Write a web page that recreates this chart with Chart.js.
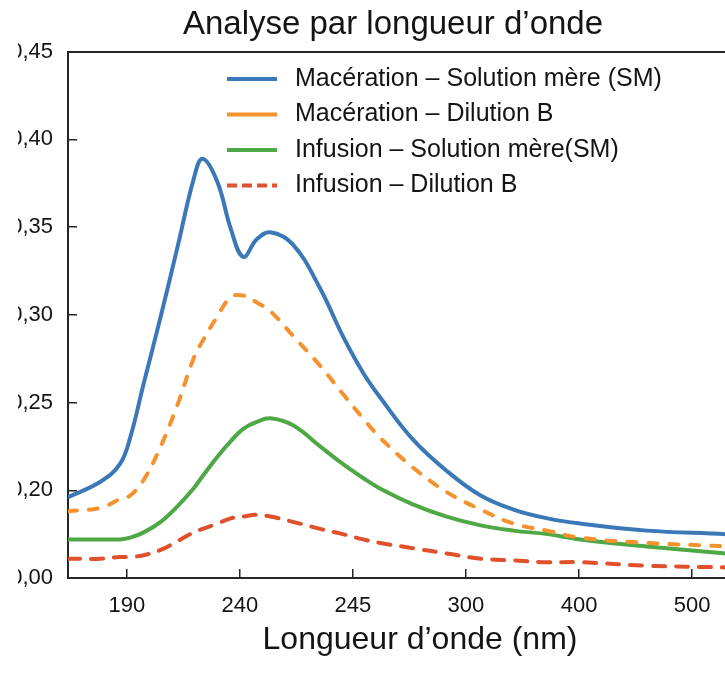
<!DOCTYPE html>
<html>
<head>
<meta charset="utf-8">
<title>Analyse par longueur d'onde</title>
<script src="https://cdn.jsdelivr.net/npm/chart.js@4.4.1/dist/chart.umd.min.js"></script>
<style>
    html, body { margin: 0; padding: 0; background: #fff; overflow: hidden; }
    body { width: 725px; height: 673px; }
    #wrap { position: relative; width: 786px; height: 673px; }
    /* the original picture is cropped on both sides */
    #chartSpectre { clip-path: inset(0 0 0 18px); }
</style>
</head>
<body>
<div id="wrap"><canvas id="chartSpectre"></canvas></div>
<script>
var xTickLabels = ['190', '240', '245', '300', '400', '500'];
var yTickValues = [0.15, 0.20, 0.25, 0.30, 0.35, 0.40, 0.45];
var yTickLabels = ['0,00', '0,20', '0,25', '0,30', '0,35', '0,40', '0,45'];

// sample positions along the x axis, in tick units (0 = "190", 1 = "240" ...)
var xPos = [-0.52, -0.23, -0.06, 0.03, 0.15, 0.3, 0.45, 0.59, 0.67, 0.8,
    0.92, 1.03, 1.15, 1.27, 1.47, 1.71, 1.91, 2.09, 2.24, 2.53,
    2.83, 3.13, 3.42, 3.72, 4.01, 4.6, 5.3, 5.75];

var macerationSM = [0.196, 0.205, 0.215, 0.230, 0.261, 0.299, 0.339, 0.377, 0.389, 0.376,
    0.349, 0.333, 0.343, 0.347, 0.340, 0.315, 0.288, 0.267, 0.253, 0.229,
    0.211, 0.197, 0.189, 0.184, 0.181, 0.177, 0.175, 0.173];
var macerationB = [0.188, 0.190, 0.195, 0.197, 0.206, 0.225, 0.249, 0.275, 0.285, 0.299,
    0.310, 0.311, 0.307, 0.302, 0.288, 0.271, 0.255, 0.241, 0.230, 0.213,
    0.199, 0.189, 0.181, 0.177, 0.173, 0.170, 0.168, 0.166];
var infusionSM = [0.172, 0.172, 0.172, 0.173, 0.176, 0.182, 0.191, 0.201, 0.208, 0.219,
    0.228, 0.235, 0.239, 0.241, 0.237, 0.225, 0.215, 0.207, 0.201, 0.192,
    0.185, 0.180, 0.177, 0.175, 0.172, 0.168, 0.164, 0.162];
var infusionB = [0.161, 0.161, 0.162, 0.162, 0.163, 0.166, 0.171, 0.176, 0.178, 0.181,
    0.184, 0.185, 0.186, 0.185, 0.182, 0.178, 0.175, 0.172, 0.170, 0.167,
    0.164, 0.161, 0.160, 0.159, 0.159, 0.157, 0.156, 0.155];

var toPoints = function (values) {
    return xPos.map(function (x, i) { return { x: x, y: values[i] }; });
};

Chart.defaults.font.family = '"Liberation Sans", Arial, Helvetica, sans-serif';
Chart.defaults.color = '#141414';

// legend drawn inside the plot, top right
var legendInside = {
    id: 'legendInside',
    afterDraw: function (chart) {
        var ctx = chart.ctx;
        ctx.save();
        ctx.font = '25px "Liberation Sans", Arial, sans-serif';
        ctx.textBaseline = 'middle';
        ctx.fillStyle = '#141414';
        chart.data.datasets.forEach(function (ds, i) {
            var y = 79 + i * 35.5;
            ctx.beginPath();
            ctx.strokeStyle = ds.borderColor;
            ctx.lineWidth = 4;
            ctx.lineCap = 'butt';
            ctx.setLineDash(ds.legendDash || []);
            ctx.moveTo(227, y);
            ctx.lineTo(277, y);
            ctx.stroke();
            ctx.setLineDash([]);
            ctx.fillText(ds.label, 295, y);
        });
        ctx.restore();
    }
};

var axisColor = '#262626';

var ctx = document.getElementById('chartSpectre');
var myChart = new Chart(ctx, {
    type: 'line',
    data: {
        datasets: [
            {
                label: 'Macération – Solution mère (SM)',
                data: toPoints(macerationSM),
                borderColor: '#3b78b8',
                borderWidth: 4
            },
            {
                label: 'Macération – Dilution B',
                data: toPoints(macerationB),
                borderColor: '#f6922e',
                borderWidth: 4,
                borderDash: [9, 12],
                borderCapStyle: 'round'
            },
            {
                label: 'Infusion – Solution mère(SM)',
                data: toPoints(infusionSM),
                borderColor: '#4ea845',
                borderWidth: 4
            },
            {
                label: 'Infusion – Dilution B',
                data: toPoints(infusionB),
                borderColor: '#e0502a',
                borderWidth: 4,
                borderDash: [12, 11],
                borderCapStyle: 'round',
                legendDash: [10, 5]
            }
        ]
    },
    options: {
        animation: false,
        responsive: true,
        maintainAspectRatio: false,
        layout: { padding: { left: 14, right: 14, top: 0, bottom: 0 } },
        elements: {
            point: { radius: 0, hoverRadius: 0 },
            line: { tension: 0.4, fill: false }
        },
        plugins: {
            legend: { display: false },
            tooltip: { enabled: false },
            title: {
                display: true,
                text: 'Analyse par longueur d’onde',
                color: '#141414',
                font: { size: 33, weight: 'normal' },
                padding: { top: 5, bottom: 7 }
            }
        },
        scales: {
            x: {
                type: 'linear',
                min: -0.52,
                max: 5.707,
                afterBuildTicks: function (scale) {
                    scale.ticks = xTickLabels.map(function (l, i) { return { value: i }; });
                },
                afterFit: function (scale) { scale.height = 95; },
                ticks: {
                    padding: 24,
                    maxRotation: 0,
                    autoSkip: false,
                    font: { size: 22 },
                    callback: function (value) { return xTickLabels[Math.round(value)]; }
                },
                grid: { drawOnChartArea: false, tickLength: -9, color: axisColor, lineWidth: 1.5 },
                border: { color: axisColor, width: 2 },
                title: {
                    display: true,
                    text: 'Longueur d’onde (nm)',
                    font: { size: 32 },
                    padding: { top: 0, bottom: 14 }
                }
            },
            xTop: {
                type: 'linear',
                position: 'top',
                min: 0,
                max: 1,
                afterFit: function (scale) { scale.height = 0; },
                ticks: { display: false },
                grid: { display: false },
                border: { color: axisColor, width: 2 }
            },
            y: {
                type: 'linear',
                min: 0.15,
                max: 0.45,
                afterBuildTicks: function (scale) {
                    scale.ticks = yTickValues.map(function (v) { return { value: v }; });
                },
                // layout padding takes 14px, so the axis ends at x = 68
                afterFit: function (scale) { scale.width = 54; },
                ticks: {
                    padding: 24,
                    font: { size: 22 },
                    callback: function (value, index) { return yTickLabels[index]; }
                },
                grid: { drawOnChartArea: false, tickLength: -9, color: axisColor, lineWidth: 1.5 },
                border: { color: axisColor, width: 2 }
            }
        }
    },
    plugins: [legendInside]
});
</script>
</body>
</html>
